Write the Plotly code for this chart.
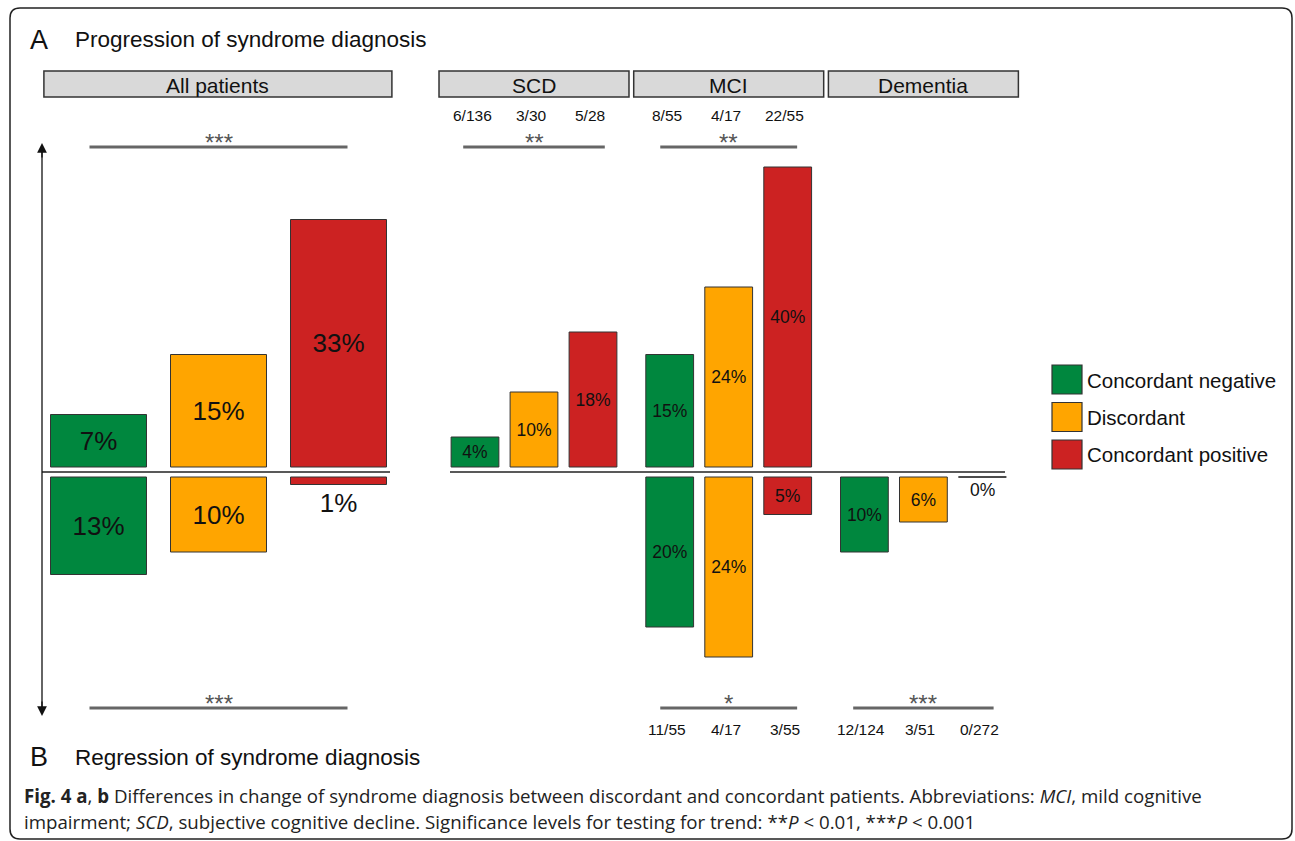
import plotly.graph_objects as go

W, H = 1295, 841

# ---- data -------------------------------------------------------------
categories = ["Concordant negative", "Discordant", "Concordant positive"]
bar_colors = ["#00873E", "#FFA500", "#CC2222"]

all_progression = [7, 15, 33]
all_regression = [13, 10, 1]

subgroups = ["SCD", "MCI", "Dementia"]
scd_progression = [4, 10, 18]
mci_progression = [15, 24, 40]
mci_regression = [20, 24, 5]
dementia_regression = [10, 6, 0]

scd_progression_n = ["6/136", "3/30", "5/28"]
mci_progression_n = ["8/55", "4/17", "22/55"]
mci_regression_n = ["11/55", "4/17", "3/55"]
dementia_regression_n = ["12/124", "3/51", "0/272"]

sig_all_progression = "***"
sig_all_regression = "***"
sig_scd_progression = "**"
sig_mci_progression = "**"
sig_mci_regression = "*"
sig_dementia_regression = "***"

# ---- layout helpers ---------------------------------------------------
FONT = "Liberation Sans, Arial, sans-serif"
EDGE = "#333333"
SIG_COLOR = "#666666"
LABEL_COLOR = "#111111"


def px(x):
    return x / W


def py(y):
    return 1 - y / H


K = 7.5            # pixels per percentage point
ZERO_PX = 472      # vertical position of the zero line
GAP = 5 / K        # bars sit slightly off the zero line
Y_TOP, Y_BOT = 140, 720
y_range = [(ZERO_PX - Y_BOT) / K, (ZERO_PX - Y_TOP) / K]

# horizontal scales: (pixel of position 0, pixels per bar slot)
LEFT_X0, LEFT_STEP = 98.5, 120
RIGHT_X0, RIGHT_STEP = 475, 59
LEFT_DOM = (20, 410)
RIGHT_DOM = (425, 1030)

GROUP_STEP = 3.3   # spacing between subgroup blocks (in bar units)
left_pos = [0, 1, 2]


def group_pos(g):
    return [g * GROUP_STEP + i for i in range(3)]


fig = go.Figure()
shapes = []
ann = []


def add_bars(xaxis, positions, values, sign, width, size):
    texts, tpos = [], []
    for v in values:
        texts.append(f"{v}%" if v > 0 else "")
        tpos.append("outside" if v < 3 else "inside")
    fig.add_trace(go.Bar(
        x=positions,
        y=[sign * v for v in values],
        base=[sign * GAP] * len(values),
        width=width,
        marker=dict(color=bar_colors, line=dict(color=EDGE, width=1)),
        text=texts,
        textposition=tpos,
        insidetextanchor="middle",
        textangle=0,
        constraintext="none",
        insidetextfont=dict(family=FONT, size=size, color=LABEL_COLOR),
        outsidetextfont=dict(family=FONT, size=size, color=LABEL_COLOR),
        cliponaxis=False,
        xaxis=xaxis,
        yaxis="y",
        showlegend=False,
        hoverinfo="skip",
    ))
    # a zero-height bar is shown as a flat line with its label below
    for p, v in zip(positions, values):
        if v == 0:
            shapes.append(dict(type="line", xref=xaxis, yref="y",
                               x0=p - width / 2, x1=p + width / 2,
                               y0=sign * GAP, y1=sign * GAP,
                               line=dict(color=EDGE, width=1)))
            ann.append(dict(xref=xaxis, yref="y", x=p, y=sign * GAP,
                            text="0%", showarrow=False, yanchor="top",
                            yshift=-1,
                            font=dict(family=FONT, size=size, color=LABEL_COLOR)))


# All patients panel
add_bars("x", left_pos, all_progression, 1, 0.8, 26)
add_bars("x", left_pos, all_regression, -1, 0.8, 26)

# Subgroup panel
add_bars("x2", group_pos(0), scd_progression, 1, 0.81, 17.5)
add_bars("x2", group_pos(1), mci_progression, 1, 0.81, 17.5)
add_bars("x2", group_pos(1), mci_regression, -1, 0.81, 17.5)
add_bars("x2", group_pos(2), dementia_regression, -1, 0.81, 17.5)

# zero lines
shapes.append(dict(type="line", xref="paper", yref="y", x0=px(42), x1=px(390),
                   y0=0, y1=0, line=dict(color="#222222", width=1.5)))
shapes.append(dict(type="line", xref="paper", yref="y", x0=px(450), x1=px(1005),
                   y0=0, y1=0, line=dict(color="#222222", width=1.5)))

# double-headed vertical arrow
ARROW_X, ARROW_T, ARROW_B = 42, 143, 716
shapes.append(dict(type="line", xref="paper", yref="paper",
                   x0=px(ARROW_X), x1=px(ARROW_X), y0=py(ARROW_T + 5), y1=py(ARROW_B - 5),
                   line=dict(color="#111111", width=1.3)))
for head_y, off in ((ARROW_T, 16), (ARROW_B, -16)):
    ann.append(dict(xref="paper", yref="paper", x=px(ARROW_X), y=py(head_y),
                    ax=0, ay=off, showarrow=True, arrowhead=2, arrowsize=1.5,
                    arrowwidth=1.3, arrowcolor="#111111", text=""))

# strip headers
STRIP_T, STRIP_B = 71, 97


def strip(xref, x0, x1, label):
    shapes.append(dict(type="rect", xref=xref, yref="paper", x0=x0, x1=x1,
                       y0=py(STRIP_B), y1=py(STRIP_T), fillcolor="#D9D9D9",
                       line=dict(color=EDGE, width=1.5)))
    ann.append(dict(xref=xref, yref="paper", x=(x0 + x1) / 2, y=py((STRIP_T + STRIP_B) / 2 + 1),
                    text=label, showarrow=False, yanchor="middle",
                    font=dict(family=FONT, size=21, color=LABEL_COLOR)))


strip("x", 1 - 1.455, 1 + 1.445, "All patients")
for g, name in enumerate(subgroups):
    c = g * GROUP_STEP + 1
    strip("x2", c - 1.61, c + 1.61, name)

# counts above / below the subgroup bars
for g, labels, ypix in [(0, scd_progression_n, 115), (1, mci_progression_n, 115),
                        (1, mci_regression_n, 729), (2, dementia_regression_n, 729)]:
    for p, t in zip(group_pos(g), labels):
        ann.append(dict(xref="x2", yref="paper", x=p - 0.05, y=py(ypix), text=t,
                        showarrow=False, yanchor="middle",
                        font=dict(family=FONT, size=15.5, color=LABEL_COLOR)))


# significance brackets
def sig(xref, positions, label, line_y, pad):
    x0, x1 = positions[0] - pad, positions[-1] + pad
    shapes.append(dict(type="line", xref=xref, yref="paper", x0=x0, x1=x1,
                       y0=py(line_y), y1=py(line_y),
                       line=dict(color=SIG_COLOR, width=3)))
    ann.append(dict(xref=xref, yref="paper", x=(x0 + x1) / 2, y=py(line_y - 5),
                    text=label, showarrow=False, yanchor="middle",
                    font=dict(family=FONT, size=24, color="#555555")))


sig("x", left_pos, sig_all_progression, 147, 0.075)
sig("x", left_pos, sig_all_regression, 708, 0.075)
sig("x2", group_pos(0), sig_scd_progression, 147, 0.2)
sig("x2", group_pos(1), sig_mci_progression, 147, 0.16)
sig("x2", group_pos(1), sig_mci_regression, 708, 0.16)
sig("x2", group_pos(2), sig_dementia_regression, 708, 0.19)

# legend
for i, (name, col) in enumerate(zip(categories, bar_colors)):
    top = 365 + i * 37.5
    shapes.append(dict(type="rect", xref="paper", yref="paper",
                       x0=px(1052), x1=px(1082), y0=py(top + 29), y1=py(top),
                       fillcolor=col, line=dict(color=EDGE, width=1.2)))
    ann.append(dict(xref="paper", yref="paper", x=px(1085), y=py(top + 15),
                    text=name, showarrow=False, xanchor="left", yanchor="middle",
                    font=dict(family=FONT, size=20.5, color=LABEL_COLOR)))

# panel titles
for letter, title, ypix in [("A", "Progression of syndrome diagnosis", 40),
                            ("B", "Regression of syndrome diagnosis", 757)]:
    ann.append(dict(xref="paper", yref="paper", x=px(28), y=py(ypix), text=letter,
                    showarrow=False, xanchor="left", yanchor="middle",
                    font=dict(family=FONT, size=27, color=LABEL_COLOR)))
    ann.append(dict(xref="paper", yref="paper", x=px(73), y=py(ypix), text=title,
                    showarrow=False, xanchor="left", yanchor="middle",
                    font=dict(family=FONT, size=22.5, color=LABEL_COLOR)))

# caption
CAP = "Open Sans, sans-serif"
cap1 = ("<b>Fig. 4 a</b>, <b>b</b> Differences in change of syndrome diagnosis between "
        "discordant and concordant patients. Abbreviations: <i>MCI</i>, mild cognitive")
cap2 = ("impairment; <i>SCD</i>, subjective cognitive decline. Significance levels for "
        "testing for trend: **<i>P</i> &lt; 0.01, ***<i>P</i> &lt; 0.001")
for txt, ypix in [(cap1, 795), (cap2, 821)]:
    ann.append(dict(xref="paper", yref="paper", x=px(22), y=py(ypix), text=txt,
                    showarrow=False, xanchor="left", yanchor="middle",
                    font=dict(family=CAP, size=18.7, color="#222222")))

# rounded frame
L, R, T, B, r = 10, 1292, 8, 839, 10
rx, ry = r / W, r / H
frame = (f"M {px(L + r)},{py(T)} L {px(R - r)},{py(T)} "
         f"Q {px(R)},{py(T)} {px(R)},{py(T) - ry} "
         f"L {px(R)},{py(B) + ry} Q {px(R)},{py(B)} {px(R) - rx},{py(B)} "
         f"L {px(L) + rx},{py(B)} Q {px(L)},{py(B)} {px(L)},{py(B) + ry} "
         f"L {px(L)},{py(T) - ry} Q {px(L)},{py(T)} {px(L) + rx},{py(T)} Z")
shapes.append(dict(type="path", xref="paper", yref="paper", path=frame,
                   line=dict(color="#222222", width=1.5)))


def axis_range(dom, x0, step):
    return [(dom[0] - x0) / step, (dom[1] - x0) / step]


axis_off = dict(visible=False, showgrid=False, zeroline=False, fixedrange=True)
fig.update_layout(
    width=W, height=H,
    margin=dict(l=0, r=0, t=0, b=0),
    paper_bgcolor="white", plot_bgcolor="rgba(0,0,0,0)",
    barmode="overlay",
    xaxis=dict(domain=[px(LEFT_DOM[0]), px(LEFT_DOM[1])],
               range=axis_range(LEFT_DOM, LEFT_X0, LEFT_STEP), anchor="y", **axis_off),
    xaxis2=dict(domain=[px(RIGHT_DOM[0]), px(RIGHT_DOM[1])],
                range=axis_range(RIGHT_DOM, RIGHT_X0, RIGHT_STEP), anchor="y", **axis_off),
    yaxis=dict(domain=[py(Y_BOT), py(Y_TOP)], range=y_range, **axis_off),
    shapes=shapes,
    annotations=ann,
    font=dict(family=FONT),
)

fig.write_html("out.html")
